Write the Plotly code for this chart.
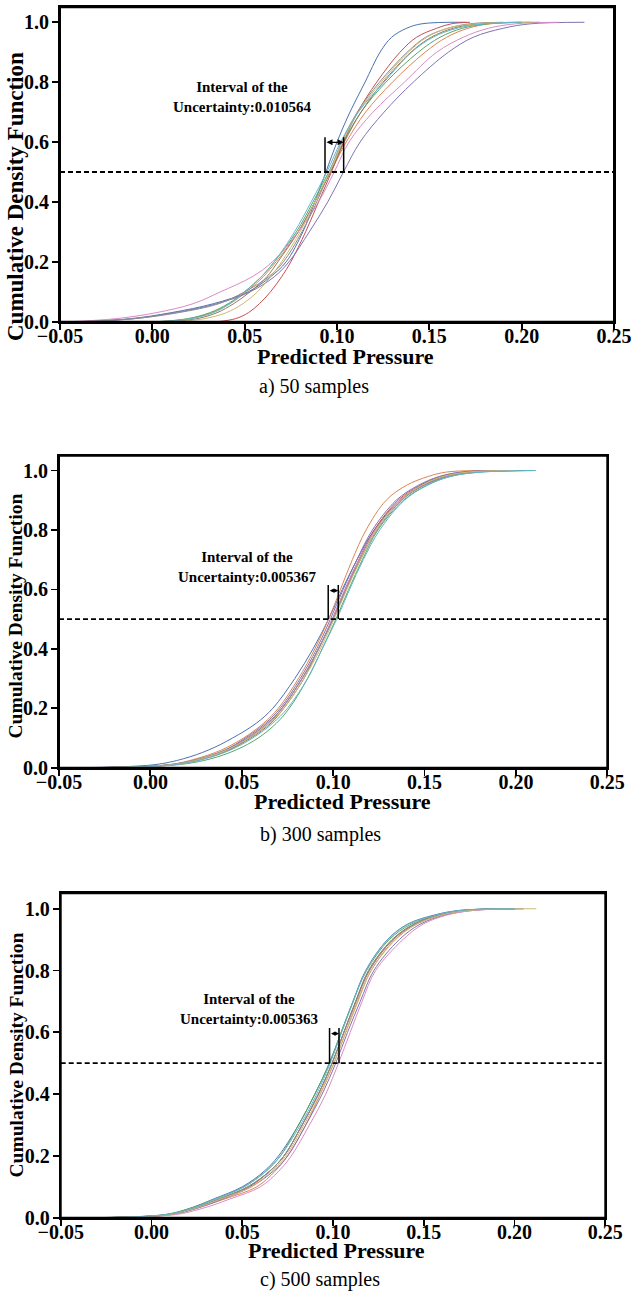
import plotly.graph_objects as go

# ---------------- data ----------------
cdf_levels = [0, 0.01, 0.03, 0.06, 0.1, 0.15, 0.2, 0.3, 0.4, 0.5, 0.6, 0.7, 0.8, 0.9, 0.95, 0.98, 0.995, 1.0]

curve_colors = ["#4C72B0", "#DD8452", "#55A868", "#C44E52", "#8172B3",
                "#937860", "#DA8BC3", "#8C8C8C", "#CCB974", "#64B5CD"]

# predicted-pressure value reached at each cdf level (one row per run)
quantiles_50 = [
    [-0.040, -0.012, 0.010, 0.033, 0.052, 0.064, 0.0725, 0.0815, 0.088, 0.0940, 0.1000, 0.1070, 0.1152, 0.1233, 0.1296, 0.1377, 0.146, 0.170],
    [0.003, 0.020, 0.032, 0.042, 0.051, 0.060, 0.067, 0.079, 0.088, 0.0965, 0.1050, 0.1155, 0.1300, 0.1477, 0.1594, 0.171, 0.183, 0.205],
    [0.002, 0.019, 0.031, 0.041, 0.050, 0.059, 0.066, 0.078, 0.087, 0.0955, 0.1035, 0.1130, 0.1265, 0.1440, 0.1558, 0.168, 0.182, 0.210],
    [0.035, 0.045, 0.052, 0.058, 0.064, 0.070, 0.075, 0.083, 0.090, 0.0970, 0.1035, 0.1112, 0.1215, 0.1341, 0.1431, 0.154, 0.162, 0.172],
    [-0.040, -0.010, 0.012, 0.035, 0.053, 0.066, 0.074, 0.085, 0.095, 0.1035, 0.1125, 0.1255, 0.1413, 0.1603, 0.1738, 0.190, 0.205, 0.234],
    [0.010, 0.024, 0.035, 0.044, 0.053, 0.062, 0.068, 0.079, 0.088, 0.0965, 0.1040, 0.1130, 0.1250, 0.1400, 0.1510, 0.163, 0.176, 0.200],
    [-0.045, -0.020, 0.002, 0.022, 0.037, 0.054, 0.065, 0.079, 0.090, 0.0985, 0.1065, 0.1195, 0.1365, 0.1540, 0.1684, 0.182, 0.197, 0.220],
    [-0.038, -0.010, 0.014, 0.036, 0.050, 0.063, 0.071, 0.081, 0.089, 0.0960, 0.1025, 0.1110, 0.1230, 0.1380, 0.1480, 0.160, 0.172, 0.190],
    [0.012, 0.028, 0.040, 0.049, 0.057, 0.064, 0.070, 0.080, 0.088, 0.0960, 0.1030, 0.1115, 0.1240, 0.1386, 0.1486, 0.160, 0.175, 0.205],
    [0.004, 0.021, 0.033, 0.042, 0.050, 0.059, 0.066, 0.077, 0.086, 0.0945, 0.1020, 0.1115, 0.1255, 0.1404, 0.1520, 0.165, 0.180, 0.200],
]

quantiles_300 = [
    [-0.040, 0.002, 0.018, 0.032, 0.045, 0.058, 0.067, 0.079, 0.089, 0.0975, 0.1050, 0.1130, 0.1225, 0.1365, 0.1495, 0.163, 0.178, 0.205],
    [-0.030, 0.010, 0.025, 0.039, 0.051, 0.062, 0.070, 0.081, 0.090, 0.0975, 0.1040, 0.1105, 0.1180, 0.1290, 0.1400, 0.152, 0.162, 0.180],
    [-0.030, 0.015, 0.033, 0.047, 0.059, 0.069, 0.076, 0.086, 0.094, 0.1015, 0.1085, 0.1160, 0.1245, 0.1385, 0.1510, 0.164, 0.180, 0.210],
    [-0.035, 0.012, 0.029, 0.043, 0.054, 0.065, 0.072, 0.083, 0.092, 0.0995, 0.1065, 0.1140, 0.1225, 0.1355, 0.1475, 0.159, 0.172, 0.195],
    [-0.035, 0.011, 0.027, 0.041, 0.052, 0.063, 0.071, 0.082, 0.091, 0.0985, 0.1055, 0.1130, 0.1215, 0.1345, 0.1465, 0.158, 0.170, 0.195],
    [-0.035, 0.012, 0.029, 0.043, 0.055, 0.066, 0.073, 0.084, 0.092, 0.1000, 0.1070, 0.1145, 0.1230, 0.1365, 0.1485, 0.160, 0.174, 0.200],
    [-0.035, 0.013, 0.029, 0.042, 0.053, 0.064, 0.072, 0.083, 0.092, 0.0995, 0.1065, 0.1140, 0.1230, 0.1370, 0.1490, 0.161, 0.176, 0.200],
    [-0.035, 0.010, 0.027, 0.041, 0.053, 0.064, 0.072, 0.083, 0.092, 0.1000, 0.1070, 0.1150, 0.1240, 0.1375, 0.1495, 0.161, 0.176, 0.200],
    [-0.035, 0.012, 0.028, 0.042, 0.054, 0.065, 0.073, 0.084, 0.093, 0.1005, 0.1075, 0.1150, 0.1235, 0.1365, 0.1485, 0.160, 0.174, 0.200],
    [-0.030, 0.013, 0.030, 0.044, 0.056, 0.067, 0.075, 0.086, 0.094, 0.1020, 0.1090, 0.1165, 0.1255, 0.1390, 0.1515, 0.164, 0.182, 0.211],
]

quantiles_500 = [
    [-0.035, 0.008, 0.021, 0.034, 0.050, 0.062, 0.070, 0.081, 0.090, 0.0980, 0.1045, 0.1110, 0.1180, 0.1300, 0.1410, 0.156, 0.170, 0.195],
    [-0.030, 0.010, 0.024, 0.040, 0.058, 0.068, 0.075, 0.085, 0.093, 0.1005, 0.1070, 0.1135, 0.1210, 0.1340, 0.1460, 0.160, 0.175, 0.200],
    [-0.035, 0.007, 0.021, 0.035, 0.051, 0.063, 0.071, 0.081, 0.090, 0.0980, 0.1045, 0.1110, 0.1185, 0.1310, 0.1430, 0.158, 0.172, 0.200],
    [-0.030, 0.010, 0.024, 0.038, 0.054, 0.065, 0.073, 0.083, 0.092, 0.0995, 0.1060, 0.1125, 0.1200, 0.1330, 0.1450, 0.159, 0.174, 0.200],
    [-0.030, 0.011, 0.025, 0.039, 0.055, 0.067, 0.075, 0.085, 0.094, 0.1015, 0.1080, 0.1150, 0.1225, 0.1365, 0.1480, 0.162, 0.178, 0.205],
    [-0.030, 0.009, 0.023, 0.037, 0.053, 0.065, 0.073, 0.083, 0.092, 0.0995, 0.1060, 0.1125, 0.1195, 0.1325, 0.1445, 0.159, 0.173, 0.200],
    [-0.025, 0.013, 0.028, 0.043, 0.060, 0.070, 0.077, 0.087, 0.096, 0.1030, 0.1095, 0.1160, 0.1235, 0.1385, 0.1496, 0.163, 0.178, 0.205],
    [-0.030, 0.009, 0.023, 0.037, 0.053, 0.065, 0.073, 0.083, 0.092, 0.0995, 0.1060, 0.1128, 0.1200, 0.1330, 0.1450, 0.159, 0.173, 0.200],
    [-0.030, 0.010, 0.024, 0.038, 0.055, 0.066, 0.074, 0.084, 0.093, 0.1005, 0.1070, 0.1138, 0.1210, 0.1345, 0.1460, 0.160, 0.176, 0.212],
    [-0.035, 0.008, 0.022, 0.035, 0.051, 0.063, 0.071, 0.082, 0.091, 0.0985, 0.1048, 0.1112, 0.1182, 0.1302, 0.1415, 0.157, 0.171, 0.200],
]

panel_captions = ["a) 50 samples", "b) 300 samples", "c) 500 samples"]
uncertainty_labels = ["0.010564", "0.005367", "0.005363"]
interval_low = [0.0935, 0.0973, 0.0981]
interval_high = [0.1036, 0.1028, 0.1033]
interval_top = [0.616, 0.615, 0.614]
arrow_level = [0.599, 0.596, 0.596]
reference_level = 0.5
label_pos_x = [0.0484, 0.0531, 0.0537]
label_pos_y = [0.749, 0.676, 0.675]

x_tick_vals = [-0.05, 0.00, 0.05, 0.10, 0.15, 0.20, 0.25]
x_tick_text = ["\u22120.05", "0.00", "0.05", "0.10", "0.15", "0.20", "0.25"]
y_tick_vals = [0.0, 0.2, 0.4, 0.6, 0.8, 1.0]
y_tick_text = ["0.0", "0.2", "0.4", "0.6", "0.8", "1.0"]

# ---------------- layout helpers ----------------
W, H = 631, 1301
def px(x):
    return x / W
def py(y):
    return 1 - y / H

# plot boxes in pixels: (left, right, top, bottom)
boxes = [(60, 614, 7.3, 321.7), (59, 607.3, 455.7, 767.7), (60.7, 605.3, 893.3, 1217.7)]
xtitle_pos = [(345, 356), (342, 801), (336, 1250)]
ytitle_pos = [(15, 197), (15, 616.5), (16, 1055.5)]
ytitle_size = [23, 19.5, 19.5]
caption_pos = [(313.5, 386), (320, 834), (320, 1279)]

SERIF = "Liberation Serif, Times New Roman, serif"

fig = go.Figure()
all_q = [quantiles_50, quantiles_300, quantiles_500]

for p in range(3):
    xa = "x" if p == 0 else f"x{p+1}"
    ya = "y" if p == 0 else f"y{p+1}"
    for i, row in enumerate(all_q[p]):
        fig.add_trace(go.Scatter(
            x=row, y=cdf_levels, mode="lines",
            line=dict(color=curve_colors[i], width=1, shape="spline", smoothing=1.0),
            xaxis=xa, yaxis=ya, showlegend=False, hoverinfo="skip"))
    # dashed reference line
    fig.add_trace(go.Scatter(
        x=[x_tick_vals[0], x_tick_vals[-1]], y=[reference_level, reference_level],
        mode="lines", line=dict(color="black", width=1.8, dash="5px,3px"),
        xaxis=xa, yaxis=ya, showlegend=False, hoverinfo="skip"))
    # interval bracket
    fig.add_trace(go.Scatter(
        x=[interval_low[p], interval_low[p], None, interval_high[p], interval_high[p]],
        y=[reference_level, interval_top[p], None, reference_level, interval_top[p]],
        mode="lines", line=dict(color="black", width=1.5),
        xaxis=xa, yaxis=ya, showlegend=False, hoverinfo="skip"))
    # double arrow
    fig.add_annotation(
        x=interval_high[p], y=arrow_level[p], ax=interval_low[p], ay=arrow_level[p],
        xref=xa, yref=ya, axref=xa, ayref=ya, text="", showarrow=True,
        arrowhead=2, startarrowhead=2, arrowside="end+start",
        arrowsize=1.0 if p == 0 else 0.7, startarrowsize=1.0 if p == 0 else 0.7,
        arrowwidth=1.2, arrowcolor="black")
    # interval label
    fig.add_annotation(
        x=label_pos_x[p], y=label_pos_y[p], xref=xa, yref=ya,
        text=f"Interval of the<br>Uncertainty:{uncertainty_labels[p]}",
        showarrow=False, align="center",
        font=dict(family=SERIF, size=15, color="black", weight="bold"))
    # frame around the plotting area (axis domain)
    fig.add_shape(type="rect", xref=f"{xa} domain", yref=f"{ya} domain",
                  x0=0, x1=1, y0=0, y1=1, line=dict(color="black", width=2),
                  fillcolor="rgba(0,0,0,0)", layer="above")

    l, r, t, b = boxes[p]
    axis_common = dict(
        showline=True, linecolor="black", linewidth=2, mirror=True,
        ticks="outside", ticklen=6, tickwidth=1.8, tickcolor="black",
        showgrid=False, zeroline=False, automargin=False,
        ticklabeloverflow="allow",
        tickfont=dict(family=SERIF, size=20, color="black", weight="bold"))
    xkey = "xaxis" if p == 0 else f"xaxis{p+1}"
    ykey = "yaxis" if p == 0 else f"yaxis{p+1}"
    fig.update_layout(**{
        xkey: dict(domain=[px(l), px(r)], range=[-0.05, 0.25], anchor=ya,
                   tickvals=x_tick_vals, ticktext=x_tick_text,
                   ticklabelstandoff=-11, **axis_common),
        ykey: dict(domain=[py(b), py(t)], range=[0, 1.05], anchor=xa,
                   tickvals=y_tick_vals, ticktext=y_tick_text,
                   ticklabelstandoff=-1, **axis_common),
    })

    # axis titles
    fig.add_annotation(x=px(xtitle_pos[p][0]), y=py(xtitle_pos[p][1]), xref="paper", yref="paper",
                       text="Predicted Pressure", showarrow=False,
                       xanchor="center", yanchor="middle",
                       font=dict(family=SERIF, size=22, color="black", weight="bold"))
    fig.add_annotation(x=px(ytitle_pos[p][0]), y=py(ytitle_pos[p][1]), xref="paper", yref="paper",
                       text="Cumulative Density Function", showarrow=False, textangle=-90,
                       xanchor="center", yanchor="middle",
                       font=dict(family=SERIF, size=ytitle_size[p], color="black", weight="bold"))
    fig.add_annotation(x=px(caption_pos[p][0]), y=py(caption_pos[p][1]), xref="paper", yref="paper",
                       text=panel_captions[p], showarrow=False,
                       xanchor="center", yanchor="middle",
                       font=dict(family=SERIF, size=20, color="black"))

fig.update_layout(
    width=W, height=H, margin=dict(l=0, r=0, t=0, b=0, pad=0),
    paper_bgcolor="white", plot_bgcolor="white", showlegend=False)

fig.write_html(
    "out.html",
    config={"displayModeBar": False, "staticPlot": True},
    post_script="document.body.style.margin='0px';document.body.style.overflow='hidden';")
